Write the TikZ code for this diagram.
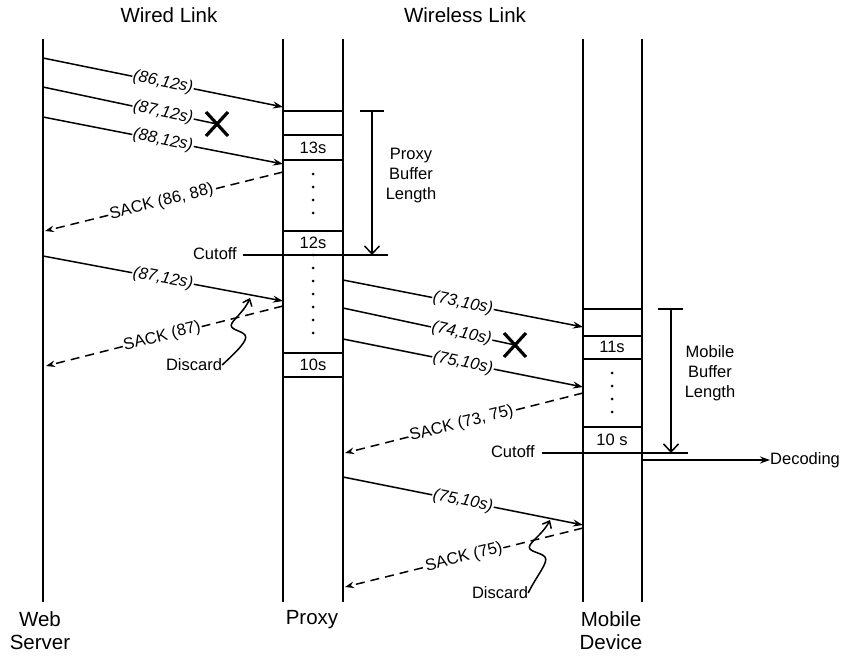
\documentclass[tikz,border=0pt]{standalone}
\usepackage{fontspec}
\setmainfont{Liberation Sans}
\usetikzlibrary{arrows.meta,calc}
\begin{document}
\begin{tikzpicture}[x=1pt,y=-1pt,
  lifeline/.style={line width=2pt},
  msg/.style={line width=1.5pt,-{Stealth[length=10pt,width=7pt]}},
  lost/.style={line width=1.5pt},
  ack/.style={line width=1.5pt,dash pattern=on 9pt off 6pt,-{Stealth[length=9pt,width=6.5pt]}},
  lbl/.style={fill=white,inner sep=1pt,font=\fontsize{16.5}{18}\selectfont\itshape,sloped},
  acklbl/.style={fill=white,inner sep=1pt,font=\fontsize{16.5}{18}\selectfont,sloped},
  big/.style={font=\fontsize{20.5}{23}\selectfont,align=center,inner sep=0pt},
  small/.style={font=\fontsize{16.5}{20}\selectfont,align=center,inner sep=0pt},
  cell/.style={line width=1.5pt},
  cutline/.style={line width=2.8pt},
  dimbar/.style={line width=1.6pt},
  dimarrow/.style={line width=1.5pt,-{Straight Barb[length=8pt,width=15pt]}},
  xmark/.style={line width=3.2pt},
  dotm/.style={circle,fill=black,inner sep=0pt,minimum size=3pt},
  squig/.style={line width=1.5pt,-{Straight Barb[length=6pt,width=10pt]}},
]
\useasboundingbox (0,0) rectangle (842,655);

% titles
\node[big] (wired) at (169,15) {Wired Link};
\node[big] (wireless) at (465,15) {Wireless Link};

% lifelines
\coordinate (wsT) at (43,39);   \coordinate (wsB) at (43,602);
\coordinate (pLT) at (283,39);  \coordinate (pLB) at (283,602);
\coordinate (pRT) at (343,39);  \coordinate (pRB) at (343,602);
\coordinate (mLT) at (583,39);  \coordinate (mLB) at (583,602);
\coordinate (mRT) at (642,39);  \coordinate (mRB) at (642,602);
\draw[lifeline] (wsT) -- (wsB);
\draw[lifeline] (pLT) -- (pLB);
\draw[lifeline] (pRT) -- (pRB);
\draw[lifeline] (mLT) -- (mLB);
\draw[lifeline] (mRT) -- (mRB);

\node[big] (ws) at (40,631) {Web\\Server};
\node[big] (px) at (312,620) {Proxy};
\node[big] (md) at (611,631) {Mobile\\Device};

% proxy buffer cells
\foreach \yy in {111,135,160,231,353,377}
  \draw[cell] (283,\yy) -- (343,\yy);
\node[small] (c13) at (313,148) {13s};
\node[small] (c12) at (313,243) {12s};
\node[small] (c10) at (313,365) {10s};
\foreach \yy in {174,187,200,213,255,268,281,294,307,320,333}
  \node[dotm] at (313,\yy) {};

% mobile buffer cells
\foreach \yy in {309,336,359,427}
  \draw[cell] (583,\yy) -- (642,\yy);
\node[small] (c11) at (612,347) {11s};
\node[small] (c10m) at (612,440) {10 s};
\foreach \yy in {373,386,399,412}
  \node[dotm] at (612,\yy) {};

% cutoffs
\coordinate (cut1a) at (243,255); \coordinate (cut1b) at (388,255);
\draw[cutline] (cut1a) -- (cut1b);
\node[small,anchor=east] (cutoff1) at (237,254) {Cutoff};
\coordinate (cut2a) at (542,453); \coordinate (cut2b) at (688,453);
\draw[cutline] (cut2a) -- (cut2b);
\node[small,anchor=east] (cutoff2) at (535,452) {Cutoff};

% buffer length dimensions
\coordinate (pb1) at (360,111); \coordinate (pb2) at (384,111);
\coordinate (pbT) at (372,111); \coordinate (pbB) at (372,255);
\draw[dimbar] (pb1) -- (pb2);
\draw[dimarrow] (pbT) -- (pbB);
\node[small] (pbl) at (411,176) {Proxy\\Buffer\\Length};
\coordinate (mb1) at (658,309); \coordinate (mb2) at (683,309);
\coordinate (mbT) at (671,309); \coordinate (mbB) at (671,453);
\draw[dimbar] (mb1) -- (mb2);
\draw[dimarrow] (mbT) -- (mbB);
\node[small] (mbl) at (710,373) {Mobile\\Buffer\\Length};

% decoding
\coordinate (decS) at (642,460);
\node[small,anchor=west] (dec) at (770,460) {Decoding};
\draw[line width=1.5pt,-{Stealth[length=10pt,width=7pt]}] (decS) -- (dec.west);

% wired messages
\coordinate (w1s) at (43,58);  \coordinate (w1e) at (283,107);
\coordinate (w2s) at (43,87);  \coordinate (x1) at (217,124);
\coordinate (w3s) at (43,117); \coordinate (w3e) at (283,164);
\coordinate (a1s) at (283,172); \coordinate (a1e) at (45,231);
\draw[msg] (w1s) -- node[lbl] {(86,12s)} (w1e);
\draw[lost] (w2s) -- node[lbl,pos=0.69] {(87,12s)} (x1);
\draw[msg] (w3s) -- node[lbl] {(88,12s)} (w3e);
\draw[ack] (a1s) -- node[acklbl,pos=0.51] {SACK (86, 88)} (a1e);
\draw[xmark] ($(x1)+(-11,-12)$) -- ($(x1)+(11,12)$);
\draw[xmark] ($(x1)+(-11,12)$) -- ($(x1)+(11,-12)$);

\coordinate (w4s) at (43,256); \coordinate (w4e) at (283,301);
\coordinate (a2s) at (283,306); \coordinate (a2e) at (46,366);
\draw[msg] (w4s) -- node[lbl] {(87,12s)} (w4e);
\draw[ack] (a2s) -- node[acklbl,pos=0.51] {SACK (87)} (a2e);
\node[small] (disc1) at (194,365) {Discard};
\coordinate (d1tip) at (250,298);
\draw[squig] (disc1.east) .. controls (236,352) and (249,340) .. (245,335)
  .. controls (241,330) and (228,330) .. (232,323)
  .. controls (236,317) and (245,310) .. (d1tip);

% wireless messages
\coordinate (m1s) at (343,280); \coordinate (m1e) at (583,327);
\coordinate (m2s) at (343,308); \coordinate (x2) at (515,345);
\coordinate (m3s) at (343,339); \coordinate (m3e) at (583,387);
\coordinate (b1s) at (583,393); \coordinate (b1e) at (345,453);
\draw[msg] (m1s) -- node[lbl] {(73,10s)} (m1e);
\draw[lost] (m2s) -- node[lbl,pos=0.69] {(74,10s)} (x2);
\draw[msg] (m3s) -- node[lbl] {(75,10s)} (m3e);
\draw[ack] (b1s) -- node[acklbl,pos=0.51] {SACK (73, 75)} (b1e);
\draw[xmark] ($(x2)+(-11,-12)$) -- ($(x2)+(11,12)$);
\draw[xmark] ($(x2)+(-11,12)$) -- ($(x2)+(11,-12)$);

\coordinate (m4s) at (343,477); \coordinate (m4e) at (583,525);
\coordinate (b2s) at (583,528); \coordinate (b2e) at (345,587);
\draw[msg] (m4s) -- node[lbl] {(75,10s)} (m4e);
\draw[ack] (b2s) -- node[acklbl,pos=0.5] {SACK (75)} (b2e);
\node[small] (disc2) at (500,593) {Discard};
\coordinate (d2tip) at (550,520);
\draw[squig] (disc2.east) .. controls (537,575) and (549,562) .. (545,557)
  .. controls (541,552) and (526,552) .. (530,545)
  .. controls (534,539) and (544,532) .. (d2tip);
\end{tikzpicture}
\end{document}
